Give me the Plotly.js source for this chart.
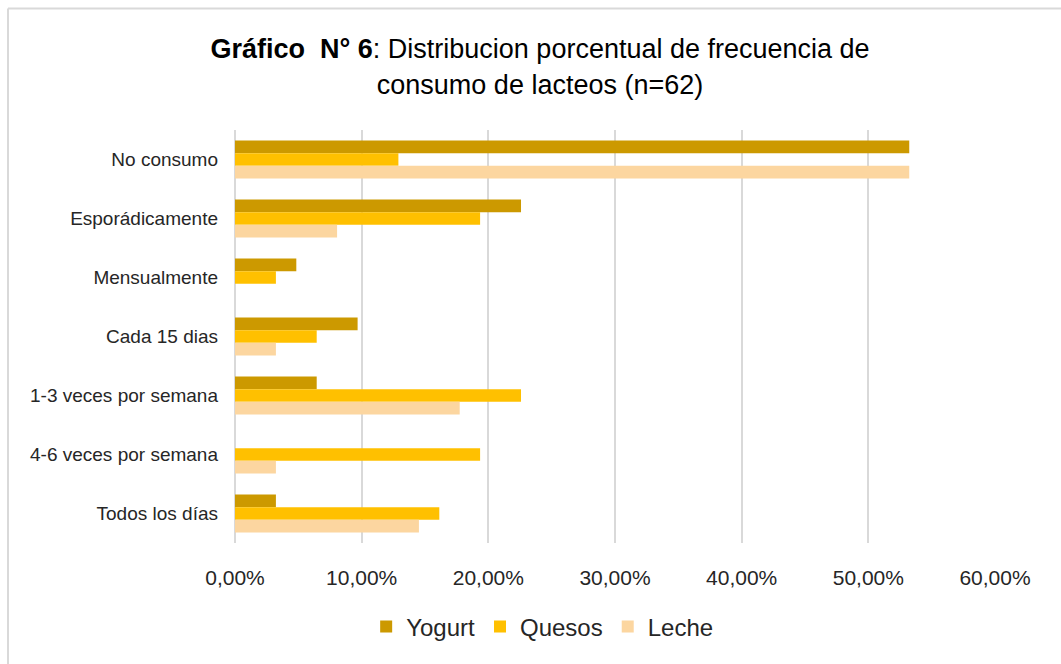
<!DOCTYPE html>
<html>
<head>
<meta charset="utf-8">
<script src="https://cdn.plot.ly/plotly-3.0.1.min.js"></script>
<style>
  body { margin: 0; background: #fff; }
  #chart { width: 1061px; height: 664px; }
</style>
</head>
<body>
<div id="chart"></div>
<script>
// Categories (top to bottom)
const categories = ['No consumo', 'Esporádicamente', 'Mensualmente', 'Cada 15 dias',
    '1-3 veces por semana', '4-6 veces por semana', 'Todos los días'];

// Shares of n=62
const yogurt = [0.5323, 0.2258, 0.0484, 0.0968, 0.0645, 0, 0.0323];
const quesos = [0.1290, 0.1935, 0.0323, 0.0645, 0.2258, 0.1935, 0.1613];
const leche  = [0.5323, 0.0806, 0, 0.0323, 0.1774, 0.0323, 0.1452];

const font = 'Liberation Sans, Arial, sans-serif';

function barTrace(name, values, color) {
    return {
        type: 'bar',
        orientation: 'h',
        name: name,
        y: categories,
        x: values,
        marker: { color: color },
        hoverinfo: 'x+name'
    };
}

const data = [
    barTrace('Yogurt', yogurt, '#CC9900'),
    barTrace('Quesos', quesos, '#FFC000'),
    barTrace('Leche', leche, '#FCD6A0')
];

const layout = {
    width: 1061,
    height: 664,
    margin: { l: 235, r: 66, t: 130, b: 121 },
    paper_bgcolor: '#fff',
    plot_bgcolor: '#fff',
    font: { family: font, color: '#262626' },
    separators: ',.',
    barmode: 'group',
    bargap: 0.36,
    bargroupgap: 0,
    title: {
        text: '<b>Gráfico  N° 6</b>: Distribucion porcentual de frecuencia de<br>consumo de lacteos (n=62)',
        font: { family: font, size: 27, color: '#000' },
        xref: 'container',
        x: 0.509,
        xanchor: 'center',
        yref: 'container',
        y: 0.912,
        yanchor: 'top'
    },
    xaxis: {
        range: [0, 0.6],
        dtick: 0.1,
        tickformat: '.2%',
        showgrid: true,
        gridcolor: '#d9d9d9',
        gridwidth: 2,
        zeroline: true,
        zerolinecolor: '#d9d9d9',
        zerolinewidth: 2,
        showline: false,
        ticks: '',
        ticklabelstandoff: 20,
        tickfont: { size: 21, color: '#262626' },
        fixedrange: true
    },
    yaxis: {
        autorange: 'reversed',
        showgrid: false,
        zeroline: false,
        showline: false,
        ticks: '',
        ticklabelstandoff: 16,
        tickfont: { size: 19, color: '#262626' },
        fixedrange: true
    },
    legend: {
        orientation: 'h',
        xref: 'container',
        x: 0.511,
        xanchor: 'center',
        yref: 'container',
        y: 0.056,
        yanchor: 'middle',
        font: { size: 24, color: '#262626' },
        itemwidth: 30,
        traceorder: 'normal'
    },
    shapes: [
        // chart frame (top and left edges visible)
        { type: 'line', xref: 'paper', yref: 'paper', x0: -0.2987, x1: 1.2, y0: 1.294, y1: 1.294,
          line: { color: '#d9d9d9', width: 2 } },
        { type: 'line', xref: 'paper', yref: 'paper', x0: -0.2987, x1: -0.2987, y0: -0.4, y1: 1.294,
          line: { color: '#d9d9d9', width: 2 } }
    ]
};

Plotly.newPlot('chart', data, layout, { displayModeBar: false, staticPlot: true });
</script>
</body>
</html>
